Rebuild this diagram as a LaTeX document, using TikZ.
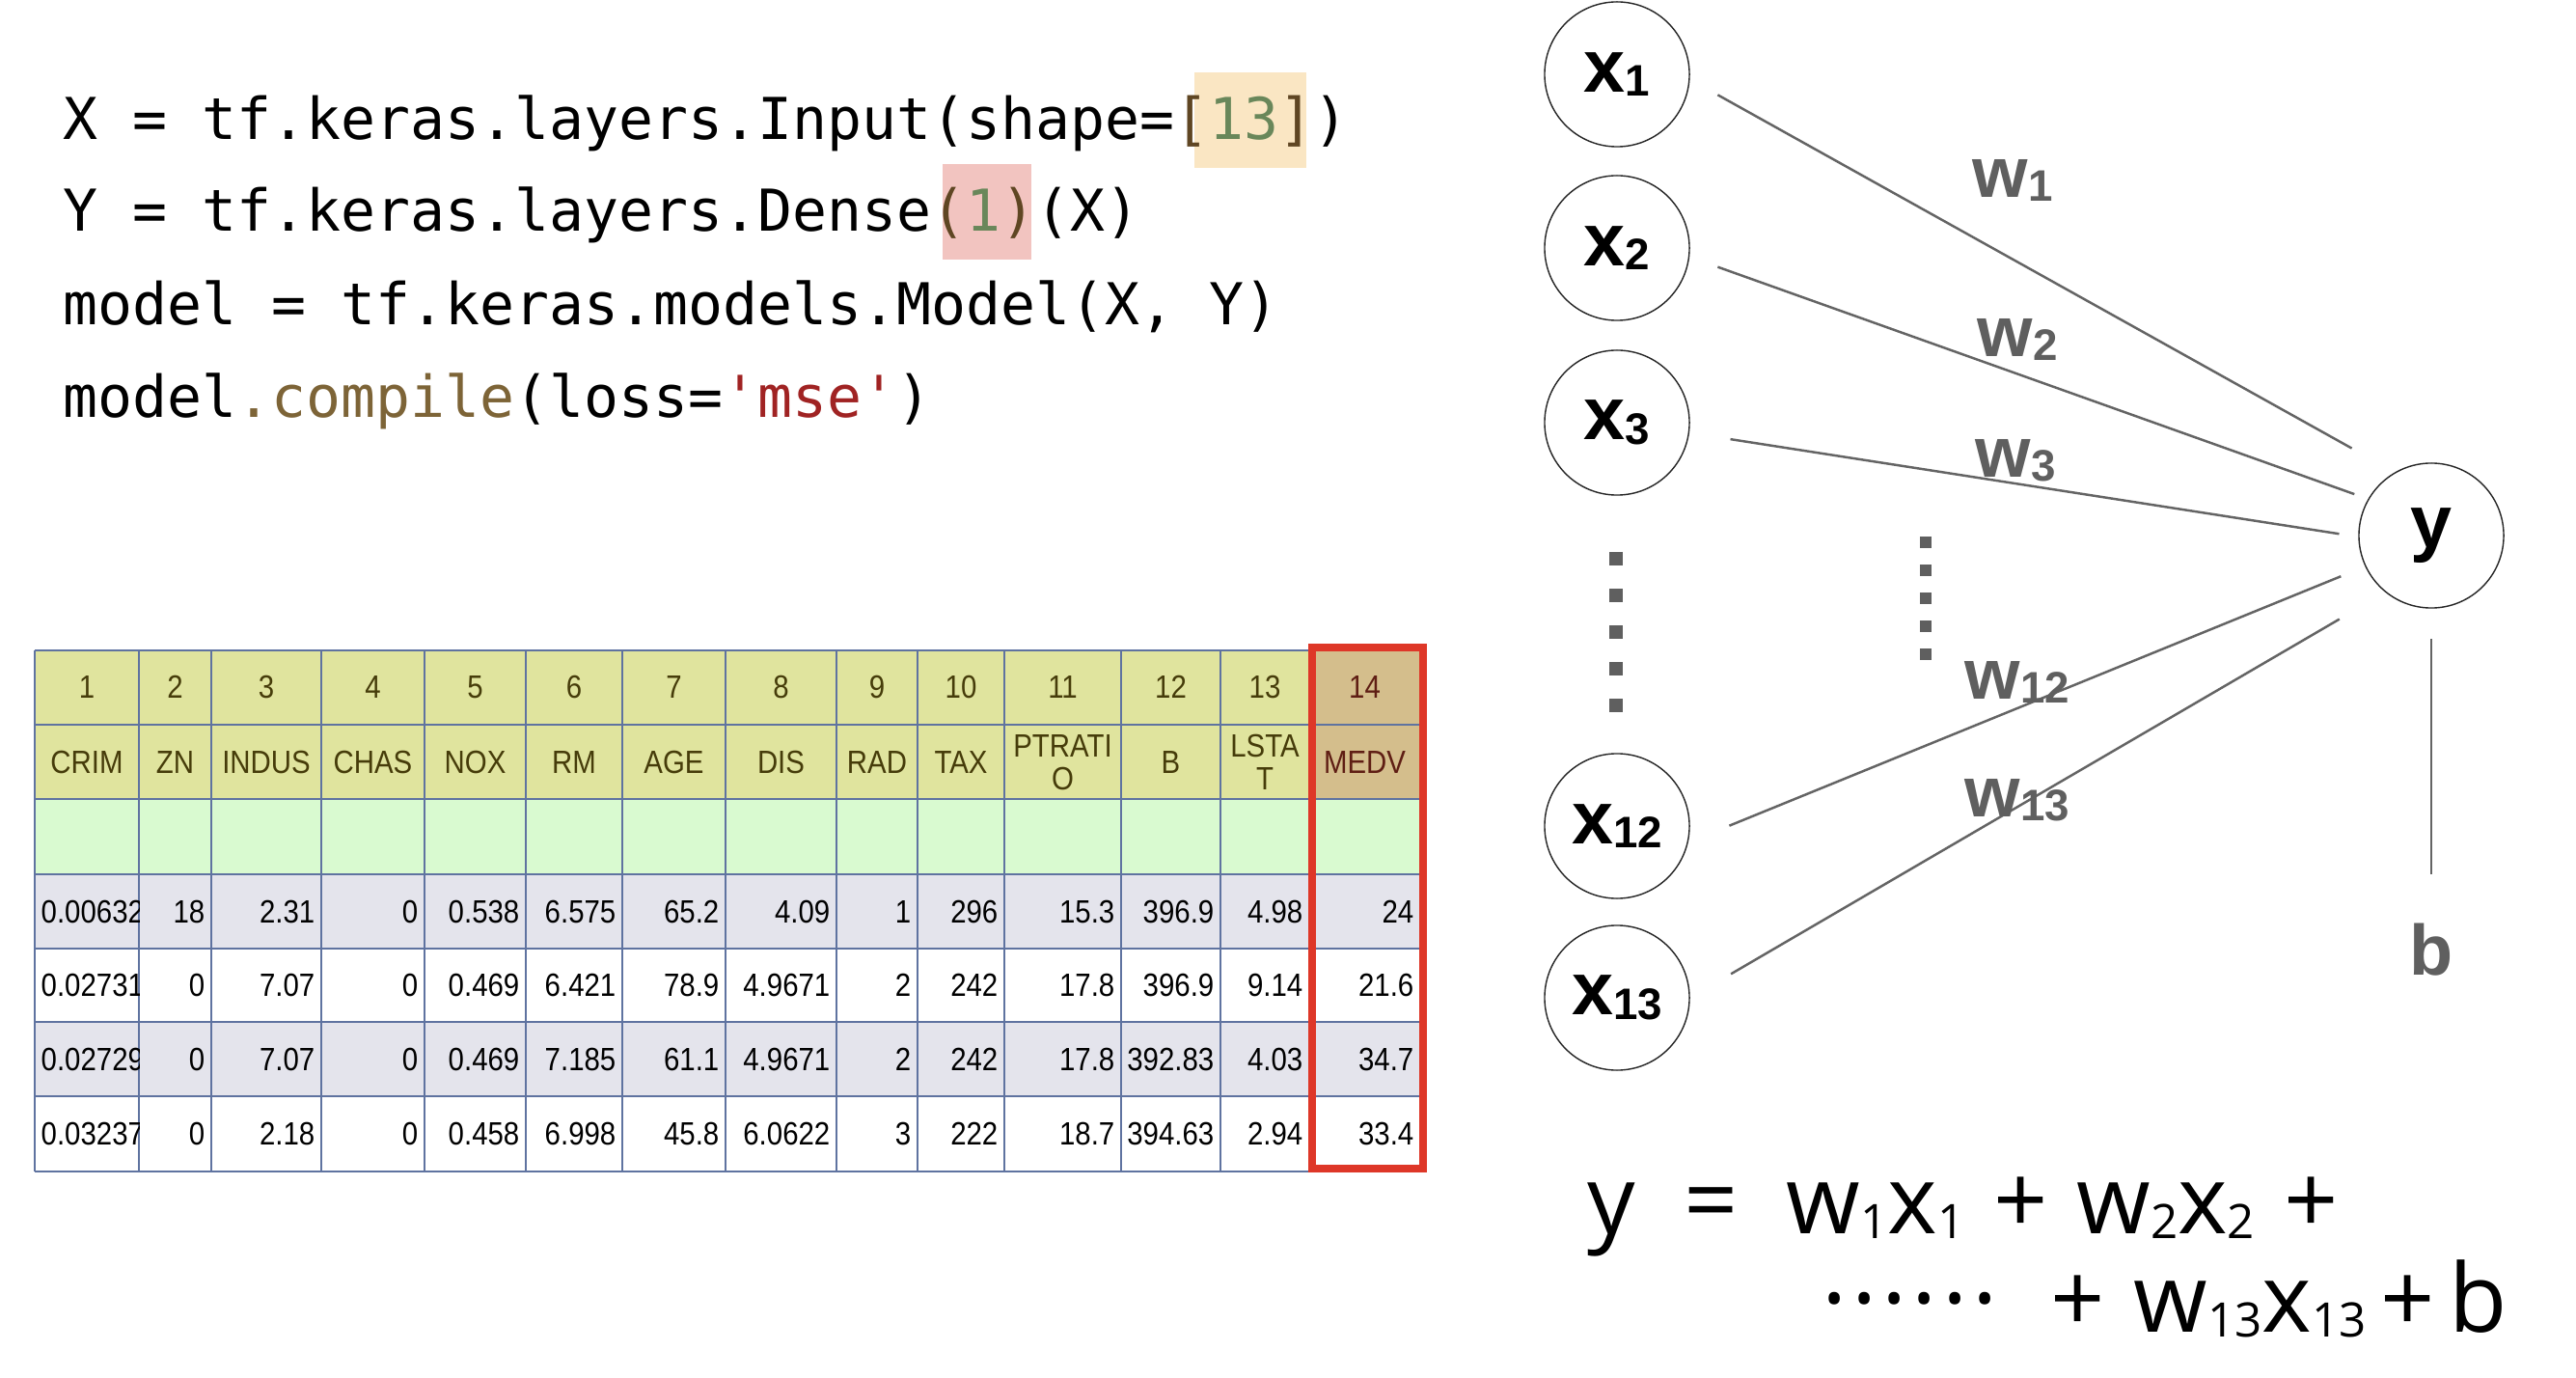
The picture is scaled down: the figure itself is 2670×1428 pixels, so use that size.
\documentclass[tikz,border=0pt]{standalone}
\usepackage{fontspec}
\setmainfont{Liberation Sans}
\setmonofont{DejaVu Sans Mono}
\newfontfamily\eqfont{Open Sans}
\newfontfamily\tabfont[FakeStretch=0.88]{Liberation Sans}
\usetikzlibrary{positioning}

\definecolor{hdrfill}{RGB}{224,228,158}
\definecolor{medvfill}{RGB}{212,190,140}
\definecolor{emptyfill}{RGB}{217,250,208}
\definecolor{rowgray}{RGB}{228,228,236}
\definecolor{gridline}{RGB}{95,115,160}
\definecolor{hdrtext}{RGB}{70,60,10}
\definecolor{medvtext}{RGB}{95,30,20}
\definecolor{medvred}{RGB}{222,55,40}
\definecolor{hlyellow}{RGB}{250,230,195}
\definecolor{hlpink}{RGB}{242,196,192}
\definecolor{numgreen}{RGB}{105,135,90}
\definecolor{brackbrown}{RGB}{95,70,35}
\definecolor{fnbrown}{RGB}{125,100,55}
\definecolor{strred}{RGB}{160,35,35}
\definecolor{wiregray}{RGB}{100,100,100}
\definecolor{labelgray}{RGB}{95,95,95}

\newcommand{\nsub}[1]{\raisebox{-0.06em}{\fontsize{13}{13}\selectfont#1}}
\newcommand{\esub}[1]{\raisebox{-0.06em}{\fontsize{14}{14}\selectfont#1}}

\tikzset{
  codeline/.style={anchor=base west, inner sep=0pt, font=\ttfamily\fontsize{17}{20}\selectfont},
  cellhead/.style={font=\tabfont\fontsize{9.5}{9.7}\selectfont, text=hdrtext, align=center, inner sep=0pt},
  celldata/.style={anchor=east, font=\tabfont\fontsize{9.5}{10}\selectfont, inner sep=0pt},
  unit/.style={circle, draw=black!85, line width=0.4pt, minimum size=1.5cm, inner sep=0pt,
    font=\bfseries\fontsize{22}{22}\selectfont},
  wire/.style={draw=wiregray, line width=0.7pt},
  wlabel/.style={text=labelgray, font=\bfseries\fontsize{21}{21}\selectfont, inner sep=0pt},
  vdots/.style={draw=labelgray, line width=0.14cm, dash pattern=on 0.14cm off 0.24cm},
  eqline/.style={inner sep=0pt, font=\eqfont\fontsize{28}{30}\selectfont},
}

\begin{document}
\begin{tikzpicture}[x=0.01cm, y=-0.01cm]
\fill[white] (0,0) rectangle (2670,1428);
\useasboundingbox (0,0) rectangle (2670,1428);

% code
\fill[hlyellow] (1238,75) rectangle (1354,174);
\fill[hlpink] (977,170) rectangle (1069,269);
\node[codeline] (code1) at (65,145) {X = tf.keras.layers.Input(shape=\textcolor{brackbrown}{[}\textcolor{numgreen}{13}\textcolor{brackbrown}{]})};
\node[codeline] (code2) at (65,240) {Y = tf.keras.layers.Dense\textcolor{brackbrown}{(}\textcolor{numgreen}{1}\textcolor{brackbrown}{)}(X)};
\node[codeline] (code3) at (65,337) {model = tf.keras.models.Model(X, Y)};
\node[codeline] (code4) at (65,433) {model\textcolor{fnbrown}{.compile}(loss=\textcolor{strred}{'mse'})};

% table
\fill[hdrfill] (36,674) rectangle (1472,828);
\fill[medvfill] (1357,674) rectangle (1472,828);
\fill[emptyfill] (36,828) rectangle (1472,906);
\fill[rowgray] (36,906) rectangle (1472,983);
\fill[rowgray] (36,1059) rectangle (1472,1136);
\foreach \gx in {36,144,219,333,440,545,645,752,867,951,1041,1162,1265,1357,1472}
  \draw[gridline, line width=0.4pt] (\gx,674) -- (\gx,1214);
\foreach \gy in {674,751,828,906,983,1059,1136,1214}
  \draw[gridline, line width=0.4pt] (36,\gy) -- (1472,\gy);

\foreach \xl/\xr/\n/\h/\tc in {36/144/1/CRIM/hdrtext, 144/219/2/ZN/hdrtext,
    219/333/3/INDUS/hdrtext, 333/440/4/CHAS/hdrtext, 440/545/5/NOX/hdrtext,
    545/645/6/RM/hdrtext, 645/752/7/AGE/hdrtext, 752/867/8/DIS/hdrtext,
    867/951/9/RAD/hdrtext, 951/1041/10/TAX/hdrtext, 1041/1162/11/{PTRATI\\O}/hdrtext,
    1162/1265/12/B/hdrtext, 1265/1357/13/{LSTA\\T}/hdrtext, 1357/1472/14/MEDV/medvtext}{
  \node[cellhead, text=\tc] (num\n) at ({(\xl+\xr)/2},712) {\n};
  \node[cellhead, text=\tc] (name\n) at ({(\xl+\xr)/2},790) {\h};
}

\foreach \xr/\n/\va/\vb/\vc/\vd in {219/2/18/0/0/0, 333/3/2.31/7.07/7.07/2.18,
    440/4/0/0/0/0, 545/5/0.538/0.469/0.469/0.458, 645/6/6.575/6.421/7.185/6.998,
    752/7/65.2/78.9/61.1/45.8, 867/8/4.09/4.9671/4.9671/6.0622, 951/9/1/2/2/3,
    1041/10/296/242/242/222, 1162/11/15.3/17.8/17.8/18.7,
    1265/12/396.9/396.9/392.83/394.63, 1357/13/4.98/9.14/4.03/2.94,
    1472/14/24/21.6/34.7/33.4}{
  \node[celldata] (va\n) at (\xr-6,945) {\va};
  \node[celldata] (vb\n) at (\xr-6,1021) {\vb};
  \node[celldata] (vc\n) at (\xr-6,1098) {\vc};
  \node[celldata] (vd\n) at (\xr-6,1175) {\vd};
}
\begin{scope}
  \clip (36,906) rectangle (144,1214);
  \foreach \v/\vy/\k in {0.00632/945/a, 0.02731/1021/b, 0.02729/1098/c, 0.03237/1175/d}
    \node[celldata, anchor=west] (v\k1) at (42,\vy) {\v};
\end{scope}
\draw[medvred, line width=0.08cm] (1360,671) rectangle (1475,1211);

% network
\node[unit] (x1) at (1676,77) {x\nsub{1}};
\node[unit] (x2) at (1676,257) {x\nsub{2}};
\node[unit] (x3) at (1676,438) {x\nsub{3}};
\node[unit] (x12) at (1676,856) {x\nsub{12}};
\node[unit] (x13) at (1676,1034) {x\nsub{13}};
\node[unit] (y) at (2520,555) {y};
\node[wlabel] (b) at (2520,984) {b};

\draw[wire, shorten <=0.33cm, shorten >=0.51cm] (x1.-4) -- (y.120);
\draw[wire, shorten <=0.31cm, shorten >=0.15cm] (x2.-7) -- (y.150);
\draw[wire, shorten <=0.43cm, shorten >=0.20cm] (x3.-8) -- (y.181);
\draw[wire, shorten <=0.46cm, shorten >=0.27cm] (x12.-13) -- (y.205);
\draw[wire, shorten <=0.49cm, shorten >=0.55cm] (x13.0) -- (y.231);
\draw[wire, shorten <=0.31cm, shorten >=0.5cm] (y) -- (b);

\node[wlabel] (w1) at (2086,187) {w\nsub{1}};
\node[wlabel] (w2) at (2091,352) {w\nsub{2}};
\node[wlabel] (w3) at (2089,477) {w\nsub{3}};
\node[wlabel] (w12) at (2091,707) {w\nsub{12}};
\node[wlabel] (w13) at (2091,829) {w\nsub{13}};

\draw[vdots] (1675,572) -- (1675,738);
\draw[vdots, line width=0.12cm, dash pattern=on 0.12cm off 0.17cm] (1996,556) -- (1996,684);

% equation
\node[eqline, anchor=base west] (eq1) at (1645,1278)
  {y\hspace{0.5cm}=\hspace{0.5cm}w\esub{1}x\esub{1}\hspace{0.3cm}+\hspace{0.3cm}w\esub{2}x\esub{2}\hspace{0.3cm}+};
\node[eqline, anchor=base east] (eq2) at (2600,1380)
  {·\kern0.05cm·\kern0.05cm·\kern0.05cm·\kern0.05cm·\kern0.05cm·\hspace{0.55cm}+\hspace{0.3cm}w\esub{13}x\esub{13}\hspace{0.15cm}+\hspace{0.15cm}b};
\end{tikzpicture}
\end{document}
